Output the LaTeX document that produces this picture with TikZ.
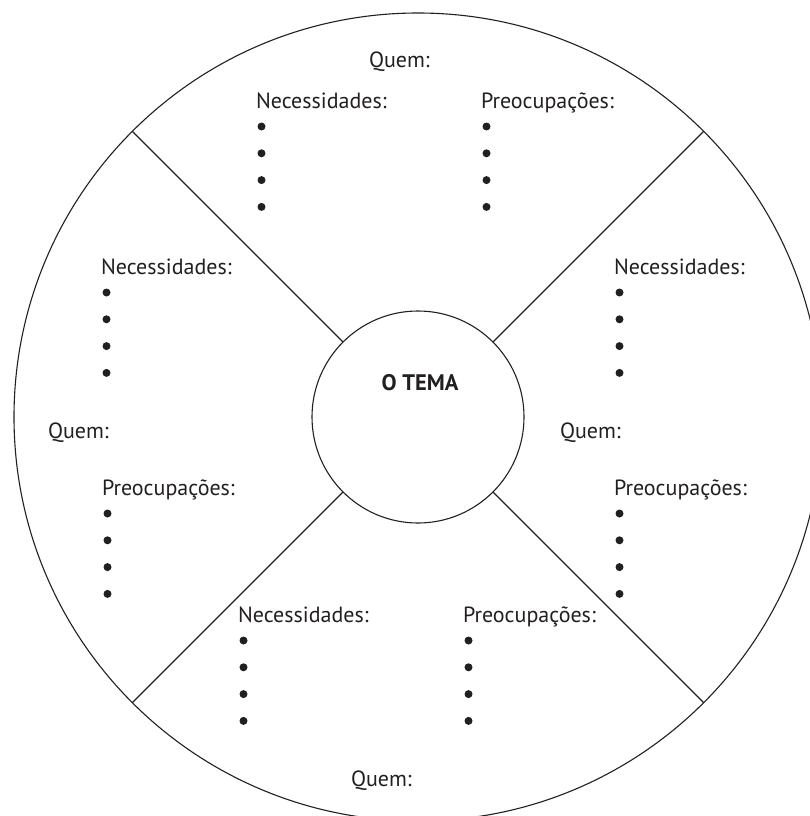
\documentclass[tikz,border=0pt]{standalone}
\usepackage{fontspec}
\setmainfont{PT Sans}
\usetikzlibrary{calc}
\definecolor{ink}{HTML}{231F20}

% heading with four bullet points below it
\newcommand\bulletblock[4]{%
  \node[lbl] (#1) at (#2,#3) {#4};
  \foreach \k in {0,...,3}
    \node[dot] (#1-\k) at ($(#1.base west)+(5.5,18.5+26.8*\k)$) {};
}

\begin{document}
\begin{tikzpicture}[x=1pt,y=-1pt,
  lbl/.style={anchor=base west,inner sep=0pt,outer sep=0pt,
              font=\fontsize{22}{26}\selectfont,text=ink},
  ring/.style={circle,draw=ink,line width=1.1pt,inner sep=0pt,outer sep=0pt},
  spoke/.style={draw=ink,line width=1.1pt},
  dot/.style={circle,fill=ink,inner sep=0pt,minimum size=8pt}]
\useasboundingbox (0,0) rectangle (810,816);

% wheel: outer rim, hub and four spokes
\coordinate (c) at (418,417);
\node[ring,minimum size=808pt] (rim) at (c) {};
\node[ring,minimum size=212pt] (hub) at (c) {};
\foreach \a in {45,135,225,315}
  \draw[spoke] (hub.\a) -- (rim.\a);

\node[anchor=base,inner sep=0pt,font=\fontsize{22.5}{26}\selectfont\bfseries,text=ink]
  (tema) at (420,390) {O TEMA};

% top sector
\node[lbl] (quemT) at (369,67) {Quem:};
\bulletblock{necT}{256}{108}{Necessidades:}
\bulletblock{preT}{481}{108}{Preocupações:}

% left sector
\node[lbl] (quemL) at (48,438) {Quem:};
\bulletblock{necL}{101}{274}{Necessidades:}
\bulletblock{preL}{102}{495}{Preocupações:}

% right sector
\node[lbl] (quemR) at (560,438) {Quem:};
\bulletblock{necR}{614}{274}{Necessidades:}
\bulletblock{preR}{614}{495}{Preocupações:}

% bottom sector
\node[lbl] (quemB) at (351,786) {Quem:};
\bulletblock{necB}{238}{622}{Necessidades:}
\bulletblock{preB}{463}{622}{Preocupações:}
\end{tikzpicture}
\end{document}
